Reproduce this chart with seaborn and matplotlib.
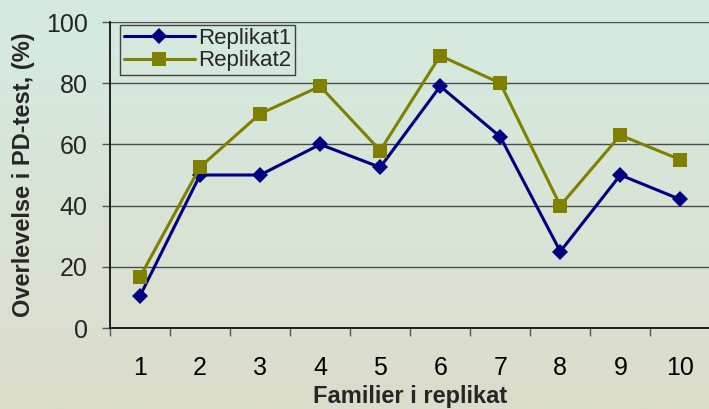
import numpy as np
import pandas as pd
import matplotlib
matplotlib.use("Agg")
import matplotlib.pyplot as plt
import seaborn as sns
from matplotlib.colors import LinearSegmentedColormap

families = [1, 2, 3, 4, 5, 6, 7, 8, 9, 10]
replikat1 = [10.5, 50, 50, 60, 52.5, 79, 62.5, 25, 50, 42]
replikat2 = [16.7, 52.6, 70, 79, 58, 89, 80, 40, 63, 55]
series_names = ["Replikat1", "Replikat2"]
y_ticks = [0, 20, 40, 60, 80, 100]

df = pd.DataFrame({
    "Familie": families * 2,
    "Verdi": replikat1 + replikat2,
    "Serie": [series_names[0]] * len(families) + [series_names[1]] * len(families),
})

sns.set_theme(style="white")
plt.rcParams["font.family"] = ["Liberation Sans", "DejaVu Sans"]

fig = plt.figure(figsize=(7.09, 4.09), dpi=100)

# background gradient
bg = fig.add_axes([0, 0, 1, 1], zorder=-10)
cmap = LinearSegmentedColormap.from_list("bg", ["#d4ebe1", "#dddccb"])
grad = np.linspace(0, 1, 256).reshape(-1, 1)
bg.imshow(grad, aspect="auto", cmap=cmap, extent=[0, 1, 0, 1], origin="upper")
bg.axis("off")

ax = fig.add_axes([110 / 709, 1 - 328 / 409, 1 - 110 / 709 + 0.002, (328 - 22) / 409])
ax.set_facecolor("none")

palette = {"Replikat1": "#000080", "Replikat2": "#808000"}
markers = {"Replikat1": "D", "Replikat2": "s"}
sns.lineplot(data=df, x="Familie", y="Verdi", hue="Serie", style="Serie",
             palette=palette, markers=markers, dashes=False, linewidth=2.2,
             markersize=9, markeredgewidth=0, ax=ax, zorder=3)
for line in ax.get_lines():
    if line.get_marker() == "s":
        line.set_markersize(10.5)
    elif line.get_marker() == "D":
        line.set_markersize(8.5)

ax.set_xlim(0.5, 10.5)
ax.set_ylim(0, 100)
ax.set_yticks(y_ticks)
ax.set_yticklabels([str(v) for v in y_ticks], fontsize=18)
ax.set_xticks(families)
ax.set_xticklabels([str(v) for v in families], fontsize=18)
ax.set_xticks(np.arange(0.5, 10.6, 1.0), minor=True)
ax.tick_params(axis="x", which="major", length=0, pad=20, colors="black")
ax.tick_params(axis="x", which="minor", length=6, width=1, color="#555555", direction="out", bottom=True)
ax.tick_params(axis="y", which="major", length=6, width=1, color="#555555", direction="out", left=True, pad=10)
ax.yaxis.grid(True, color="#4a4a4a", linewidth=1)
ax.set_axisbelow(True)

for s in ["top", "right"]:
    ax.spines[s].set_visible(False)
for s in ["left", "bottom"]:
    ax.spines[s].set_visible(True)
    ax.spines[s].set_color("black")
    ax.spines[s].set_linewidth(1.2)

ax.set_xlabel("Familier i replikat", fontsize=17, fontweight="bold", labelpad=4)
ax.set_ylabel("Overlevelse i PD-test, (%)", fontsize=17, fontweight="bold", labelpad=8)

leg = ax.legend(loc="upper left", bbox_to_anchor=(0.01, 1.005), fontsize=16, frameon=True,
                fancybox=False, edgecolor="#404040", facecolor="none", framealpha=1,
                borderpad=0.15, labelspacing=0.05, handlelength=3.2, handletextpad=0.15,
                borderaxespad=0.2, title=None)
leg.get_frame().set_linewidth(1)

fig.savefig("out.png", dpi=100)
